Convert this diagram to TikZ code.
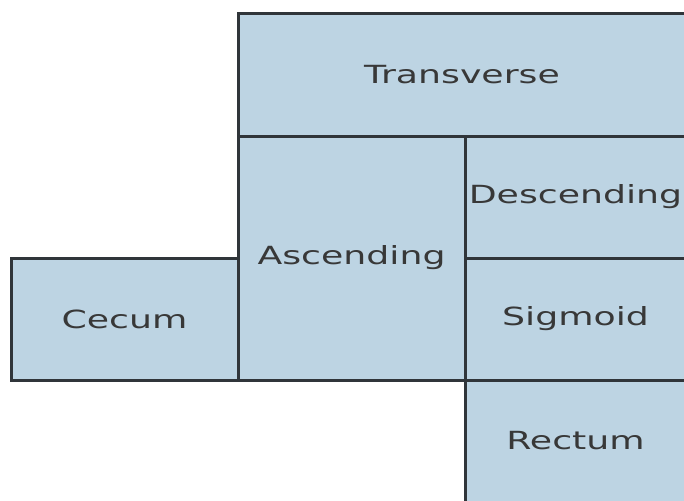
\documentclass[tikz,border=0pt]{standalone}
\usepackage{fontspec}
\setmainfont[FakeStretch=1.45]{DejaVu Sans}
\definecolor{boxblue}{HTML}{BDD4E3}
\definecolor{linegray}{HTML}{30353A}
\definecolor{textgray}{HTML}{383838}
\begin{document}
\begin{tikzpicture}[x=1pt,y=-1pt,
  seg/.style={draw=linegray, fill=boxblue, line width=3pt, inner sep=0pt,
    text=textgray, font=\fontsize{25}{30}\selectfont}]
\useasboundingbox (0,0) rectangle (684,500);
\clip (0,0) rectangle (684,500);
\node[seg, minimum width=448pt, minimum height=122pt] (transverse) at (462,75) {Transverse};
\node[seg, minimum width=227pt, minimum height=244pt] (ascending) at (351.5,258) {Ascending};
\node[seg, minimum width=221pt, minimum height=122pt] (descending) at (575.5,197) {Descending};
\node[seg, minimum width=221pt, minimum height=122pt] (sigmoid) at (575.5,319) {Sigmoid};
\node[seg, minimum width=227pt, minimum height=122pt] (cecum) at (124.5,319) {Cecum};
\node[seg, minimum width=221pt, minimum height=122pt] (rectum) at (575.5,441) {Rectum};
\end{tikzpicture}
\end{document}
